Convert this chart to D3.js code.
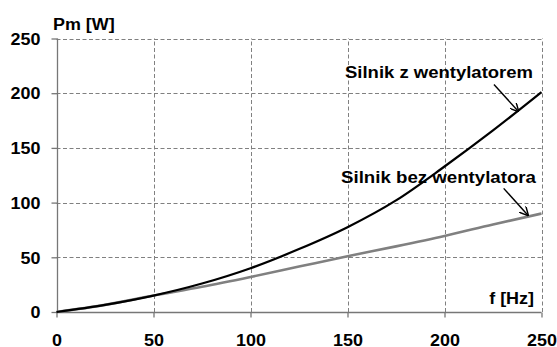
<!DOCTYPE html>
<html>
<head>
<meta charset="utf-8">
<script src="https://cdn.jsdelivr.net/npm/d3@7"></script>
<style>
  body { margin: 0; background: #fff; }
  text { font-family: "Liberation Sans", Arial, sans-serif; font-weight: bold; fill: #000; }
</style>
</head>
<body>
<script>
// data
const freq = [0, 25, 50, 75, 100, 125, 150, 175, 200, 225, 250];
const withFan = [0, 6.5, 15, 26, 40, 57.5, 77.5, 102, 133, 166, 201];
const withoutFan = [0, 6.5, 15, 23, 32, 41.5, 51, 60, 69.5, 80, 90];
const xTicks = [0, 50, 100, 150, 200, 250];
const yTicks = [0, 50, 100, 150, 200, 250];

const width = 557, height = 347;
const margin = { top: 38.5, right: 15.5, bottom: 35, left: 56.5 };
const stretch = 1.12; // the reference text is a bit wider than Liberation Sans

const svg = d3.select("body").append("svg")
    .attr("width", width)
    .attr("height", height);

const x = d3.scaleLinear().domain([0, 250]).range([margin.left, width - margin.right]);
const y = d3.scaleLinear().domain([0, 250]).range([height - margin.bottom, margin.top]);

// grid
const grid = svg.append("g")
    .attr("stroke", "#808080")
    .attr("stroke-width", 1)
    .attr("stroke-dasharray", "4,2.5");
grid.selectAll(".hg")
    .data(yTicks.filter((d) => d > 0))
    .join("line")
    .attr("x1", x(0)).attr("x2", x(250))
    .attr("y1", (d) => Math.round(y(d)) + 0.5).attr("y2", (d) => Math.round(y(d)) + 0.5);
grid.selectAll(".vg")
    .data(xTicks.filter((d) => d > 0))
    .join("line")
    .attr("y1", y(0)).attr("y2", y(250))
    .attr("x1", (d) => Math.round(x(d)) + 0.5).attr("x2", (d) => Math.round(x(d)) + 0.5);

// axes
const xAxis = svg.append("g")
    .attr("transform", "translate(0," + (Math.round(y(0)) + 0.5) + ")")
    .call(d3.axisBottom(x).tickValues(xTicks).tickSize(5).tickPadding(17));
const yAxis = svg.append("g")
    .attr("transform", "translate(" + (Math.round(x(0)) + 0.5) + ",0)")
    .call(d3.axisLeft(y).tickValues(yTicks).tickSize(6).tickPadding(11));
[xAxis, yAxis].forEach((a) => {
    a.select(".domain").attr("stroke", "#777").attr("stroke-width", 1.3);
    a.selectAll(".tick line").attr("stroke", "#777").attr("stroke-width", 1.3);
    a.selectAll(".tick text").style("font-size", "16px").style("font-weight", "bold")
        .style("font-family", "'Liberation Sans', Arial, sans-serif").attr("fill", "#000");
});
xAxis.select(".domain").attr("d", "M" + x(0) + ",0H" + x(250));
yAxis.select(".domain").attr("d", "M0," + y(0) + "V" + y(250));
yAxis.selectAll(".tick text").attr("dy", "0.36em");

// curves
const line = d3.line()
    .x((d) => x(d[0]))
    .y((d) => y(d[1]))
    .curve(d3.curveMonotoneX);

svg.append("path")
    .datum(freq.map((f, i) => [f, withoutFan[i]]))
    .attr("fill", "none")
    .attr("stroke", "#808080")
    .attr("stroke-width", 2.6)
    .attr("d", line);

svg.append("path")
    .datum(freq.map((f, i) => [f, withFan[i]]))
    .attr("fill", "none")
    .attr("stroke", "#000")
    .attr("stroke-width", 2.2)
    .attr("d", line);

// axis titles
svg.append("text").attr("x", 53).attr("y", 30).style("font-size", "16px").text("Pm [W]");
svg.append("text").attr("x", 534).attr("y", 304).attr("text-anchor", "end")
    .style("font-size", "16px").text("f [Hz]");

// annotations
svg.append("defs").append("marker")
    .attr("id", "arrow")
    .attr("viewBox", "0 0 10 10")
    .attr("refX", 9).attr("refY", 5)
    .attr("markerWidth", 9).attr("markerHeight", 9)
    .attr("markerUnits", "userSpaceOnUse")
    .attr("orient", "auto")
    .append("path")
    .attr("d", "M0,0L10,5L0,10")
    .attr("fill", "none")
    .attr("stroke", "#000")
    .attr("stroke-width", 1.6);

const labels = [
    { text: "Silnik z wentylatorem", lx: 345, ly: 78, w: 188, from: [225.5, 208], to: [238, 183.5] },
    { text: "Silnik bez wentylatora", lx: 341, ly: 183, w: 195, from: [230.5, 113], to: [243, 88.5] }
];
labels.forEach((l) => {
    svg.append("text")
        .attr("class", "fixed")
        .attr("x", l.lx).attr("y", l.ly)
        .attr("textLength", l.w).attr("lengthAdjust", "spacingAndGlyphs")
        .style("font-size", "16px")
        .text(l.text);
    svg.append("line")
        .attr("x1", x(l.from[0])).attr("y1", y(l.from[1]))
        .attr("x2", x(l.to[0])).attr("y2", y(l.to[1]))
        .attr("stroke", "#000")
        .attr("stroke-width", 1.4)
        .attr("marker-end", "url(#arrow)");
});

// widen the other texts to match the reference lettering
svg.selectAll("text:not(.fixed)").each(function () {
    const w = this.getComputedTextLength();
    d3.select(this)
        .attr("textLength", w * stretch)
        .attr("lengthAdjust", "spacingAndGlyphs");
});
</script>
</body>
</html>
